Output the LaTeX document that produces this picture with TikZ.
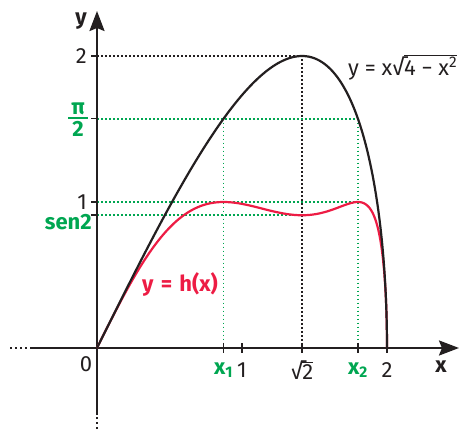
\documentclass[tikz,border=0pt]{standalone}
\usepackage{amsmath}
\usepackage{fontspec}
\setmainfont{Fira Sans}
\usetikzlibrary{arrows.meta}
\definecolor{ink}{RGB}{35,31,32}
\definecolor{grn}{RGB}{0,166,81}
\definecolor{rd}{RGB}{237,28,68}
\newcommand\myrad[1]{\mbox{√\kern-0.6pt\vbox{\hrule height 1.1pt\kern1.2pt\hbox{#1}}}}
\newcommand\myfrac[2]{\vbox{\hbox to 20pt{\hss #1\hss}\kern2pt\hrule width 20pt height 1.8pt\kern2.5pt\hbox to 20pt{\hss #2\hss}}}
\begin{document}
\begin{tikzpicture}[x=1pt,y=-1pt,
  every node/.style={font=\fontsize{22}{26}\selectfont, inner sep=0pt, text=ink},
  axis/.style={line width=2.4pt, draw=ink},
  dotline/.style={line width=1.8pt, dash pattern=on 1.8pt off 2.2pt},
  gdot/.style={dotline, draw=grn},
  kdot/.style={dotline, draw=ink},
  tick/.style={line width=1.6pt, draw=ink},
  glab/.style={text=grn, font=\fontsize{22}{26}\selectfont\bfseries}]
\useasboundingbox (0,0) rectangle (459,431);
% key positions
\pgfmathsetmacro\ox{97}\pgfmathsetmacro\oy{348}
\pgfmathsetmacro\ux{145}\pgfmathsetmacro\uy{146}
\pgfmathsetmacro\xa{\ox+\ux*0.8730}
\pgfmathsetmacro\xb{\ox+\ux*1.7995}
\pgfmathsetmacro\xr{\ox+\ux*1.41421}
\pgfmathsetmacro\xone{\ox+\ux}
\pgfmathsetmacro\xtwo{\ox+2*\ux}
\pgfmathsetmacro\ytwo{\oy-2*\uy}
\pgfmathsetmacro\ypi{\oy-1.570796*\uy}
\pgfmathsetmacro\yone{\oy-\uy}
\pgfmathsetmacro\ysen{\oy-0.909297*\uy}
\coordinate (O) at (\ox,\oy);
% dotted guides
\coordinate (A2) at (\ox,\ytwo); \coordinate (M) at (\xr,\ytwo); \coordinate (Mb) at (\xr,\oy);
\draw[kdot] (A2) -- (M) -- (Mb);
\coordinate (Api) at (\ox,\ypi); \coordinate (P1) at (\xa,\ypi); \coordinate (P2) at (\xb,\ypi);
\coordinate (P1b) at (\xa,\oy); \coordinate (P2b) at (\xb,\oy);
\draw[gdot] (Api) -- (P2);
\draw[gdot] (P1) -- (P1b);
\draw[gdot] (P2) -- (P2b);
\coordinate (A1) at (\ox,\yone); \coordinate (Q2) at (\xb,\yone);
\draw[gdot] (A1) -- (Q2);
\coordinate (As) at (\ox,\ysen); \coordinate (S2) at (\xr,\ysen);
\draw[gdot] (As) -- (S2);
% axes
\coordinate (xl) at (32,\oy); \coordinate (xll) at (10,\oy); \coordinate (xr) at (459,\oy);
\coordinate (yb) at (\ox,415); \coordinate (ybb) at (\ox,429); \coordinate (yt) at (\ox,11);
\draw[axis, -{Stealth[length=20pt,width=15pt,inset=3pt]}] (xl) -- (xr);
\draw[axis, -{Stealth[length=20pt,width=15pt,inset=3pt]}] (yb) -- (yt);
\draw[line width=2.4pt, draw=ink, dash pattern=on 2.2pt off 2.8pt] (xll) -- (xl);
\draw[line width=2.4pt, draw=ink, dash pattern=on 2.2pt off 2.8pt] (ybb) -- (yb);
% ticks
\foreach \yy in {\ytwo,\ypi,\yone,\ysen} \draw[tick] (\ox-6,\yy) -- (\ox,\yy);
\foreach \xx in {\xa,\xone,\xr,\xb,\xtwo} \draw[tick] (\xx,\oy-5) -- (\xx,\oy+5);
% curves
\draw[rd, line width=2.2pt] plot[domain=0:90, samples=200, variable=\t]
  ({\ox+2*\ux*sin(\t)}, {\oy-\uy*sin(deg(2*sin(2*\t)))});
\draw[ink, line width=2.2pt] plot[domain=0:90, samples=200, variable=\t]
  ({\ox+2*\ux*sin(\t)}, {\oy-2*\uy*sin(2*\t)});
% labels
\node[font=\fontsize{22}{26}\selectfont\bfseries] (ylab) at (81,21) {y};
\node[font=\fontsize{22}{26}\selectfont\bfseries] (xlab) at (441,367) {x};
\node[anchor=east] (l2) at (87,\ytwo) {2};
\node[glab] (lpi) at (78,\ypi+1) {\myfrac{π}{2}};
\node[anchor=east] (l1) at (87,\yone) {1};
\node[glab, anchor=east] (lsen) at (92,222) {sen2};
\node (l0) at (86,364) {0};
\node[glab] (lx1) at (\xa,370) {x\textsubscript{1}};
\node (lone) at (\xone,370) {1};
\node (lr2) at (\xr,370) {\myrad{2}};
\node[glab] (lx2) at (\xb,370) {x\textsubscript{2}};
\node (ltwo) at (\xtwo,370) {2};
\node[anchor=base west] (fml) at (348,75) {y = x\myrad{4 − x\textsuperscript{2}}};
\node[text=rd, font=\fontsize{22}{26}\selectfont\bfseries] (hlab) at (180,284) {y\kern2pt{} =\kern2pt{} h(x)};
\end{tikzpicture}
\end{document}
